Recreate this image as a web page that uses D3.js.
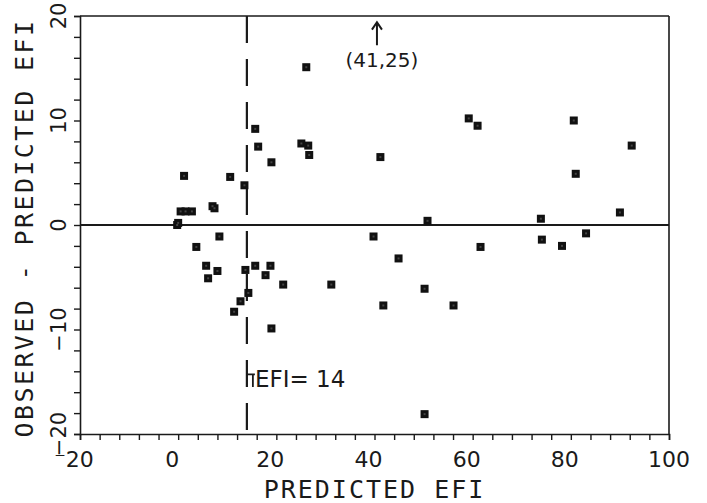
<!DOCTYPE html>
<html>
<head>
<meta charset="utf-8">
<script src="https://cdn.jsdelivr.net/npm/d3@7"></script>
<style>
  body { margin: 0; background: #fff; }
</style>
</head>
<body>
<div id="chart"></div>
<script>
// predicted EFI (x) and observed - predicted EFI (y)
const predicted = [
  0, -0.2, 0.5, 1.5, 2.8, 1.2, 3.7, 7.0, 7.4, 8.4,
  5.7, 6.1, 8.0, 10.6, 11.4, 12.7, 13.5, 13.7, 14.3, 15.7,
  15.7, 16.3, 17.8, 18.8, 19.0, 19.0, 21.4, 25.1, 26.1, 26.5,
  26.7, 31.2, 39.8, 41.2, 41.8, 44.9, 50.2, 50.2, 50.8, 56.1,
  59.2, 61.0, 61.6, 73.9, 74.1, 78.2, 80.6, 81.0, 83.1, 90.0,
  92.4
];
const residual = [
  0.2, 0, 1.3, 1.3, 1.3, 4.7, -2.1, 1.8, 1.6, -1.1,
  -3.9, -5.1, -4.4, 4.6, -8.3, -7.3, 3.8, -4.3, -6.5, 9.2,
  -3.9, 7.5, -4.8, -3.9, 6.0, -9.9, -5.7, 7.8, 15.1, 7.6,
  6.7, -5.7, -1.1, 6.5, -7.7, -3.2, -6.1, -18.1, 0.4, -7.7,
  10.2, 9.5, -2.1, 0.6, -1.4, -2.0, 10.0, 4.9, -0.8, 1.2,
  7.6
];
const xTicks = [-20, 0, 20, 40, 60, 80, 100];
const yTicks = [-20, -10, 0, 10, 20];
const threshold = 14;

const width = 707, height = 503;
const margin = { top: 16, right: 38, bottom: 69, left: 80 };

const svg = d3.select("#chart")
  .append("svg")
  .attr("width", width)
  .attr("height", height);

const x = d3.scaleLinear().domain([-20, 100]).range([margin.left, width - margin.right]);
const y = d3.scaleLinear().domain([-20, 20]).range([height - margin.bottom, margin.top]);

const ink = "#1a1a1a";

// minor ticks
const xAxis = svg.append("g")
  .attr("transform", `translate(0,${y(-20)})`)
  .call(d3.axisBottom(x).tickValues(d3.range(-20, 101, 4)).tickSize(6).tickFormat(""));
xAxis.select(".domain").attr("stroke-width", 1.6);

const yAxis = svg.append("g")
  .attr("transform", `translate(${x(-20)},0)`)
  .call(d3.axisLeft(y).tickValues(d3.range(-20, 21, 2)).tickSize(6).tickFormat(""));
yAxis.select(".domain").attr("stroke-width", 1.6);

svg.selectAll(".tick line").attr("stroke", ink).attr("stroke-width", 1.4);
svg.selectAll(".domain").attr("stroke", ink);

// top and right frame
svg.append("line")
  .attr("x1", x(-20)).attr("x2", x(100))
  .attr("y1", y(20)).attr("y2", y(20))
  .attr("stroke", ink).attr("stroke-width", 1.6);
svg.append("line")
  .attr("x1", x(100)).attr("x2", x(100))
  .attr("y1", y(20)).attr("y2", y(-20))
  .attr("stroke", ink).attr("stroke-width", 1.6);

// tick labels
svg.selectAll(".xlab")
  .data(xTicks)
  .enter()
  .append("text")
  .attr("x", d => x(d) - (d === 100 ? 0 : 6))
  .attr("y", y(-20) + 33)
  .attr("text-anchor", "middle")
  .attr("font-family", "DejaVu Sans")
  .attr("font-size", 22)
  .attr("fill", ink)
  .text(d => d < 0 ? "\u207B" + Math.abs(d) : d);

svg.selectAll(".ylab")
  .data(yTicks)
  .enter()
  .append("text")
  .attr("transform", d => `translate(${x(-20) - 14},${y(d)}) rotate(-90)`)
  .attr("text-anchor", "middle")
  .attr("font-family", "DejaVu Sans")
  .attr("font-size", 21)
  .attr("fill", ink)
  .text(d => d < 0 ? "\u2212" + Math.abs(d) : d);

// axis titles
svg.append("text")
  .attr("x", x(40))
  .attr("y", height - 5)
  .attr("text-anchor", "middle")
  .attr("font-family", "DejaVu Sans Mono")
  .attr("font-size", 25)
  .attr("letter-spacing", 2)
  .attr("fill", ink)
  .text("PREDICTED EFI");

svg.append("text")
  .attr("transform", `translate(33,${y(0) + 3}) rotate(-90)`)
  .attr("text-anchor", "middle")
  .attr("font-family", "DejaVu Sans Mono")
  .attr("font-size", 25)
  .attr("letter-spacing", 2.4)
  .attr("fill", ink)
  .text("OBSERVED - PREDICTED EFI");

// zero line
svg.append("line")
  .attr("x1", x(-20)).attr("x2", x(100))
  .attr("y1", y(0)).attr("y2", y(0))
  .attr("stroke", ink).attr("stroke-width", 2);

// EFI = 14 dashed line
svg.append("line")
  .attr("x1", x(threshold)).attr("x2", x(threshold))
  .attr("y1", y(20)).attr("y2", y(-20))
  .attr("stroke", ink).attr("stroke-width", 2.2)
  .attr("stroke-dasharray", "27,16");

svg.append("path")
  .attr("d", `M${x(threshold)},${y(-14.3)} H${x(threshold) + 8} M${x(threshold) + 6},${y(-14.3)} V${y(-15.5)}`)
  .attr("fill", "none")
  .attr("stroke", ink).attr("stroke-width", 1.8);

svg.append("text")
  .attr("x", x(threshold) + 8)
  .attr("y", y(-15.5))
  .attr("font-family", "DejaVu Sans")
  .attr("font-size", 23)
  .attr("fill", ink)
  .text("EFI= 14");

// off-scale point annotation
svg.append("line")
  .attr("x1", x(40.5)).attr("x2", x(40.5))
  .attr("y1", y(17.2)).attr("y2", y(19.3))
  .attr("stroke", ink).attr("stroke-width", 2);
svg.append("path")
  .attr("d", `M${x(40.5) - 5},${y(18.7)} L${x(40.5)},${y(19.4)} L${x(40.5) + 5},${y(18.7)}`)
  .attr("fill", "none")
  .attr("stroke", ink).attr("stroke-width", 2);
svg.append("text")
  .attr("x", x(41.5))
  .attr("y", y(15.1))
  .attr("text-anchor", "middle")
  .attr("font-family", "DejaVu Sans")
  .attr("font-size", 20)
  .attr("fill", ink)
  .text("(41,25)");

// points
const pts = predicted.map((p, i) => ({ p: p, r: residual[i] }));
const s = 8;

svg.selectAll(".pt")
  .data(pts)
  .enter()
  .append("rect")
  .attr("x", d => x(d.p) - s / 2)
  .attr("y", d => y(d.r) - s / 2)
  .attr("width", s)
  .attr("height", s)
  .attr("fill", "#111");

svg.selectAll(".pt-in")
  .data(pts)
  .enter()
  .append("rect")
  .attr("x", d => x(d.p) - 1)
  .attr("y", d => y(d.r) - 1)
  .attr("width", 2)
  .attr("height", 2)
  .attr("fill", "#444");
</script>
</body>
</html>
